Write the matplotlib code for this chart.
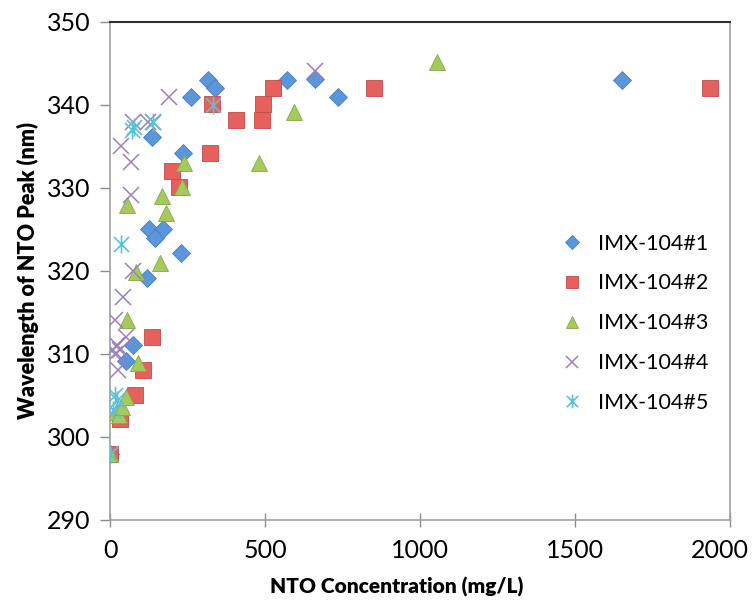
import matplotlib
matplotlib.use("Agg")
import matplotlib.pyplot as plt
from matplotlib.path import Path
from matplotlib.transforms import ScaledTranslation

# ---- data ----
s1_x = [0, 52, 74, 119, 126, 171, 145, 229, 235, 135, 261, 316, 339, 571, 661, 735, 1650]
s1_y = [298, 309.2, 311.1, 319.2, 325, 325.1, 324, 322.2, 334.2, 336.2, 341, 343, 342.1, 343, 343.1, 341, 343]

s2_x = [0, 32, 81, 106, 135, 200, 222, 321, 330, 406, 490, 494, 525, 852, 1935]
s2_y = [298, 302.2, 305.1, 308.1, 312.1, 332.1, 330.1, 334.2, 340.1, 338.2, 338.2, 340.1, 342.1, 342, 342]

s3_x = [0, 18, 28, 38, 52, 90, 55, 84, 55, 161, 181, 168, 232, 240, 481, 594, 1055]
s3_y = [298, 303, 302.6, 303.6, 304.8, 308.9, 314.1, 319.9, 327.9, 321, 327, 329, 330.1, 333, 333, 339.1, 345.2]

s4_x = [0, 26, 16, 10, 32, 23, 52, 16, 42, 74, 68, 68, 35, 74, 123, 139, 190, 661]
s4_y = [298, 308.1, 310, 310.5, 310.5, 311.1, 312.1, 314.1, 316.9, 320, 329.1, 333.1, 335.1, 338, 338, 338, 341, 344.1]

s5_x = [0, 10, 16, 22, 35, 71, 76, 140, 332]
s5_y = [298, 303.3, 305.1, 304.5, 323.2, 337, 337.4, 338, 340]

labels = ["IMX-104#1", "IMX-104#2", "IMX-104#3", "IMX-104#4", "IMX-104#5"]
x_ticks = [0, 500, 1000, 1500, 2000]
y_ticks = [290, 300, 310, 320, 330, 340, 350]

# asterisk marker: x plus vertical line
ast = Path([(-0.5, -0.5), (0.5, 0.5), (-0.5, 0.5), (0.5, -0.5), (0, -0.6), (0, 0.6)],
           [Path.MOVETO, Path.LINETO, Path.MOVETO, Path.LINETO, Path.MOVETO, Path.LINETO])

plt.rcParams['font.family'] = ['Lato', 'DejaVu Sans']

fig = plt.figure(figsize=(7.55, 6.01), dpi=100)
ax = fig.add_axes([0.1457, 0.1348, 0.967 - 0.1457, 0.9634 - 0.1348])

ax.plot(s1_x, s1_y, linestyle='none', marker='D', ms=9, mfc='#5B95DA', mec='#4A7FC0', mew=0.6, label=labels[0], zorder=3)
ax.plot(s2_x, s2_y, linestyle='none', marker='s', ms=12, mfc='#E8605E', mec='#BF4B48', mew=0.6, label=labels[1], zorder=3)
ax.plot(s3_x, s3_y, linestyle='none', marker='^', ms=12, mfc='#A5C95A', mec='#86A846', mew=0.6, label=labels[2], zorder=3)
ax.plot(s4_x, s4_y, linestyle='none', marker='x', ms=11, mec='#9A80BF', mew=1.1, label=labels[3], zorder=4)
ax.plot(s5_x, s5_y, linestyle='none', marker=ast, ms=13, mec='#5BC3D8', mew=1.2, label=labels[4], zorder=5)

ax.set_xlim(0, 2000)
ax.set_ylim(290, 350)
ax.set_xticks(x_ticks)
ax.set_yticks(y_ticks)
ax.tick_params(axis='both', labelsize=18, colors='#8C8C8C', labelcolor='black', length=6, width=1)
ax.tick_params(axis='x', direction='inout', length=10, pad=9)
ax.tick_params(axis='y', direction='out', length=7, pad=7)

# shift the last x tick label left so it stays inside the figure
last = ax.get_xticklabels()[-1]
last.set_transform(last.get_transform() + ScaledTranslation(-0.1, 0, fig.dpi_scale_trans))

for side in ['left', 'bottom', 'right']:
    ax.spines[side].set_color('#A0A0A0')
    ax.spines[side].set_linewidth(1.2)
ax.spines['top'].set_color('#303030')
ax.spines['top'].set_linewidth(1.5)

ax.set_xlabel('NTO Concentration (mg/L)', fontsize=15, fontweight='heavy', labelpad=7)
ax.xaxis.set_label_coords(0.463, -0.115)
ax.set_ylabel('Wavelength of NTO Peak (nm)', fontsize=15.5, fontweight='heavy', labelpad=6)

leg = ax.legend(loc='center left', bbox_to_anchor=(0.683, 0.395), frameon=False, fontsize=15.5,
                labelspacing=0.92, handletextpad=0.2, borderpad=0.3, markerscale=0.75)

fig.savefig('out.png', dpi=100)
